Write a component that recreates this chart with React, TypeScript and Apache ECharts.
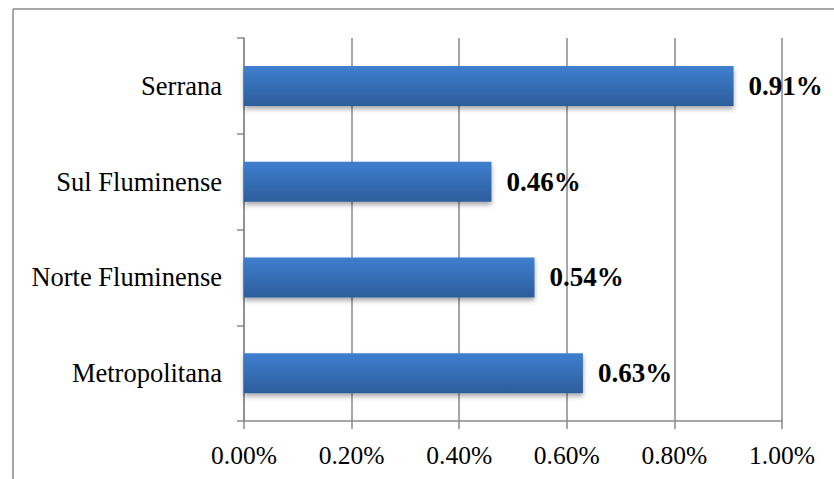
import React, { useEffect, useRef } from "react";
import * as echarts from "echarts";

// Regions listed bottom-to-top, as the category axis draws them
const regions = ["Metropolitana", "Norte Fluminense", "Sul Fluminense", "Serrana"];
const shares = [0.63, 0.54, 0.46, 0.91];
const xTicks = { min: 0, max: 1, step: 0.2 };

const SERIF = '"Liberation Serif", "Times New Roman", serif';
const GREY = "#8a8a8a";

export default function App() {
  const ref = useRef<HTMLDivElement>(null);

  useEffect(() => {
    if (!ref.current) return;
    const chart = echarts.init(ref.current, null, { renderer: "svg" });
    chart.setOption({
      animation: false,
      backgroundColor: "#ffffff",
      textStyle: { fontFamily: SERIF },
      grid: { left: 244, right: 52, top: 38, bottom: 58, containLabel: false },
      xAxis: {
        type: "value",
        min: xTicks.min,
        max: xTicks.max,
        interval: xTicks.step,
        axisLine: { show: true, lineStyle: { color: GREY, width: 1.5 } },
        axisTick: { show: true, length: 8, lineStyle: { color: GREY, width: 1.5 } },
        splitLine: { show: true, lineStyle: { color: GREY, width: 1.5 } },
        axisLabel: {
          margin: 21,
          color: "#000",
          fontSize: 25.5,
          fontFamily: SERIF,
          formatter: (v: number) => v.toFixed(2) + "%",
        },
      },
      yAxis: {
        type: "category",
        data: regions,
        axisLine: { show: true, lineStyle: { color: GREY, width: 1.5 } },
        axisTick: { show: true, length: 7, lineStyle: { color: GREY, width: 1.5 } },
        axisLabel: { margin: 22, color: "#000", fontSize: 26.5, fontFamily: SERIF },
      },
      series: [
        {
          type: "bar",
          data: shares,
          barWidth: 40,
          itemStyle: {
            color: new echarts.graphic.LinearGradient(0, 0, 0, 1, [
              { offset: 0, color: "#3f7fcf" },
              { offset: 1, color: "#2c5d9c" },
            ]),
            shadowColor: "rgba(0,0,0,0.35)",
            shadowBlur: 5,
            shadowOffsetY: 3,
          },
          label: {
            show: true,
            position: "right",
            distance: 15,
            color: "#000",
            fontSize: 27,
            fontWeight: "bold",
            fontFamily: SERIF,
            formatter: (p: any) => p.value.toFixed(2) + "%",
          },
        },
      ],
      graphic: [
        {
          type: "line",
          shape: { x1: 13, y1: 9, x2: 834, y2: 9 },
          style: { stroke: GREY, lineWidth: 1.5 },
        },
        {
          type: "line",
          shape: { x1: 13, y1: 9, x2: 13, y2: 479 },
          style: { stroke: GREY, lineWidth: 1.5 },
        },
      ],
    });
    return () => chart.dispose();
  }, []);

  return (
    <div
      ref={ref}
      style={{ position: "fixed", left: 0, top: 0, width: 834, height: 479 }}
    />
  );
}
